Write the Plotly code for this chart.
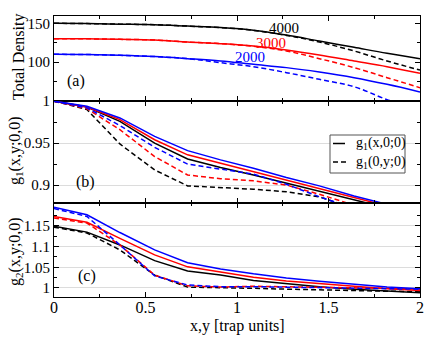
import plotly.graph_objects as go
from plotly.subplots import make_subplots

# positions along x or y (trap units)
pos = [0, 0.18, 0.36, 0.55, 0.73, 0.91, 1.09, 1.27, 1.45, 1.64, 1.82, 2.0]

# (a) total density, solid = along x, dashed = along y
dens_x_4000 = [150.9, 150.5, 149.8, 149.0, 147.2, 145.3, 141.9, 135.5, 127.6, 119.3, 111.4, 104.4]
dens_y_4000 = [150.9, 150.5, 149.8, 149.0, 147.2, 145.3, 141.6, 135.0, 126.3, 114.5, 101.3, 89.4]
dens_x_3000 = [130.7, 130.5, 129.8, 128.9, 126.3, 124.1, 121.0, 115.8, 109.2, 101.3, 93.8, 85.1]
dens_y_3000 = [130.7, 130.5, 129.8, 128.9, 126.3, 124.1, 120.6, 114.5, 104.4, 92.6, 79.4, 66.2]
dens_x_2000 = [110.1, 109.8, 108.8, 107.1, 104.4, 101.3, 96.9, 92.6, 86.8, 79.4, 70.6, 60.5]
dens_y_2000 = [110.1, 109.8, 108.8, 107.1, 104.4, 99.1, 93.8, 86.0, 77.2, 67.5, 50.5, 37.0]

# (b) g1
g1x_4000 = [1.0, 0.993, 0.976, 0.950, 0.931, 0.921, 0.912, 0.902, 0.892, 0.882, 0.872, 0.863]
g1y_4000 = [1.0, 0.990, 0.949, 0.918, 0.899, 0.897, 0.895, 0.892, 0.886, 0.872, 0.862, 0.852]
g1x_3000 = [1.0, 0.993, 0.978, 0.954, 0.936, 0.926, 0.916, 0.906, 0.896, 0.885, 0.875, 0.865]
g1y_3000 = [1.0, 0.991, 0.966, 0.934, 0.912, 0.9075, 0.905, 0.900, 0.889, 0.876, 0.866, 0.856]
g1x_2000 = [1.0, 0.994, 0.980, 0.958, 0.941, 0.930, 0.920, 0.909, 0.899, 0.887, 0.877, 0.866]
g1y_2000 = [1.0, 0.992, 0.971, 0.945, 0.925, 0.919, 0.913, 0.901, 0.886, 0.872, 0.862, 0.852]

# (c) g2
g2x_4000 = [1.149, 1.135, 1.104, 1.066, 1.041, 1.031, 1.018, 1.010, 1.003, 0.997, 0.992, 0.988]
g2y_4000 = [1.147, 1.133, 1.092, 1.031, 1.002, 1.001, 0.999, 0.997, 0.995, 0.993, 0.992, 0.991]
g2x_3000 = [1.173, 1.159, 1.120, 1.080, 1.051, 1.039, 1.026, 1.017, 1.010, 1.004, 0.998, 0.994]
g2y_3000 = [1.169, 1.157, 1.104, 1.031, 1.005, 1.002, 1.004, 1.003, 1.002, 1.0, 0.999, 0.997]
g2x_2000 = [1.195, 1.177, 1.134, 1.092, 1.061, 1.046, 1.034, 1.024, 1.016, 1.008, 1.002, 0.998]
g2y_2000 = [1.192, 1.173, 1.104, 1.029, 1.007, 1.003, 1.003, 1.002, 1.0, 0.999, 0.998, 0.997]

FONT = "Liberation Serif"
DASH = "5px,3px"

fig = make_subplots(rows=3, cols=1, shared_xaxes=True, vertical_spacing=0)

panels = [
    (1, [(dens_x_4000, dens_y_4000, "black"), (dens_x_3000, dens_y_3000, "red"), (dens_x_2000, dens_y_2000, "blue")]),
    (2, [(g1x_4000, g1y_4000, "black"), (g1x_3000, g1y_3000, "red"), (g1x_2000, g1y_2000, "blue")]),
    (3, [(g2x_4000, g2y_4000, "black"), (g2x_3000, g2y_3000, "red"), (g2x_2000, g2y_2000, "blue")]),
]
for row, sets in panels:
    shape = "spline" if row == 1 else "linear"
    for sx, sy, col in sets:
        fig.add_trace(go.Scatter(x=pos, y=sx, mode="lines", showlegend=False,
                                 line=dict(color=col, width=1.5, shape=shape)), row=row, col=1)
        fig.add_trace(go.Scatter(x=pos, y=sy, mode="lines", showlegend=False,
                                 line=dict(color=col, width=1.5, dash=DASH, shape=shape)), row=row, col=1)

axis_common = dict(showline=True, linecolor="black", linewidth=1, mirror="ticks",
                   ticks="inside", ticklen=5, tickcolor="black", automargin=False,
                   tickfont=dict(family=FONT, size=15, color="black"), zeroline=False)

# pixel helpers (plot area: x 54..420, y 16..297)
def px(xp):
    return (xp - 54) / 366

def py(yp):
    return (297 - yp) / 281

for r in (1, 2, 3):
    fig.update_xaxes(range=[0, 2], tickvals=[0, 0.5, 1, 1.5, 2], ticktext=["0", "0.5", "1", "1.5", "2"],
                     minor=dict(tickvals=[0.25, 0.75, 1.25, 1.75], ticks="inside", ticklen=3, tickcolor="black"),
                     showgrid=False, showticklabels=(r == 3), domain=[0, 1], row=r, col=1, **axis_common)

fig.update_xaxes(tickfont=dict(family=FONT, size=16, color="black"), ticklabelstandoff=-4, row=3, col=1)

fig.update_yaxes(range=[48.7, 160.5], tickvals=[100, 150], showgrid=False, domain=[py(101), 1],
                 minor=dict(tickvals=[75, 125], ticks="inside", ticklen=3, tickcolor="black"),
                 row=1, col=1, **axis_common)
fig.update_yaxes(range=[0.8786, 1.0002], tickvals=[0.9, 0.95, 1], ticktext=["0.9", "0.95", "1"],
                 showgrid=True, gridcolor="#dcdcdc", gridwidth=1, domain=[py(203), py(101)],
                 minor=dict(tickvals=[0.925, 0.975], ticks="inside", ticklen=3, tickcolor="black"),
                 row=2, col=1, **axis_common)
fig.update_yaxes(range=[0.978, 1.2055], tickvals=[1, 1.05, 1.1, 1.15], ticktext=["1", "1.05", "1.1", "1.15"],
                 showgrid=True, gridcolor="#dcdcdc", gridwidth=1, domain=[0, py(203)],
                 minor=dict(tickvals=[1.025, 1.075, 1.125, 1.175], ticks="inside", ticklen=3, tickcolor="black"),
                 row=3, col=1, **axis_common)

def ann(text, x, y, xref, yref, color="black", size=16, angle=0, xanchor="center"):
    fig.add_annotation(text=text, x=x, y=y, xref=xref, yref=yref, showarrow=False,
                       xanchor=xanchor, yanchor="middle",
                       textangle=angle, font=dict(family=FONT, size=size, color=color))

ann("(a)", 0.12, 75, "x", "y")
ann("(b)", 0.17, 0.9036, "x2", "y2")
ann("(c)", 0.18, 1.029, "x3", "y3")
ann("4000", 1.257, 144.1, "x", "y", size=15)
ann("3000", 1.186, 125, "x", "y", color="red", size=15)
ann("2000", 1.071, 106.6, "x", "y", color="blue", size=15)

# axis titles
ann("Total Density", px(19), py(57), "paper", "paper", angle=-90)
ann("g<sub>1</sub>(x,y;0,0)", px(15), py(151), "paper", "paper", angle=-90)
ann("g<sub>2</sub>(x,y;0,0)", px(15), py(252), "paper", "paper", angle=-90)
ann("x,y [trap units]", px(237), py(326), "paper", "paper")

# legend box drawn by hand
fig.add_shape(type="rect", xref="paper", yref="paper", x0=px(330), x1=px(405), y0=py(173), y1=py(135),
              line=dict(color="#555555", width=1), fillcolor="white")
fig.add_shape(type="line", xref="paper", yref="paper", x0=px(333), x1=px(345), y0=py(143.5), y1=py(143.5),
              line=dict(color="black", width=1.5))
fig.add_shape(type="line", xref="paper", yref="paper", x0=px(333), x1=px(346), y0=py(162), y1=py(162),
              line=dict(color="black", width=1.5, dash="5px,3px"))
ann("g<sub>1</sub>(x,0;0)", px(354), py(143.5), "paper", "paper", size=14, xanchor="left")
ann("g<sub>1</sub>(0,y;0)", px(354), py(162), "paper", "paper", size=14, xanchor="left")

fig.update_layout(width=436, height=337, margin=dict(l=54, r=16, t=16, b=40),
                  plot_bgcolor="white", paper_bgcolor="white", showlegend=False,
                  font=dict(family=FONT, color="black"))

# drop the browser's default body margin so the figure sits at the window corner
fig.write_html("out.html", config={"displayModeBar": False},
               post_script="document.body.style.margin='0px';")
